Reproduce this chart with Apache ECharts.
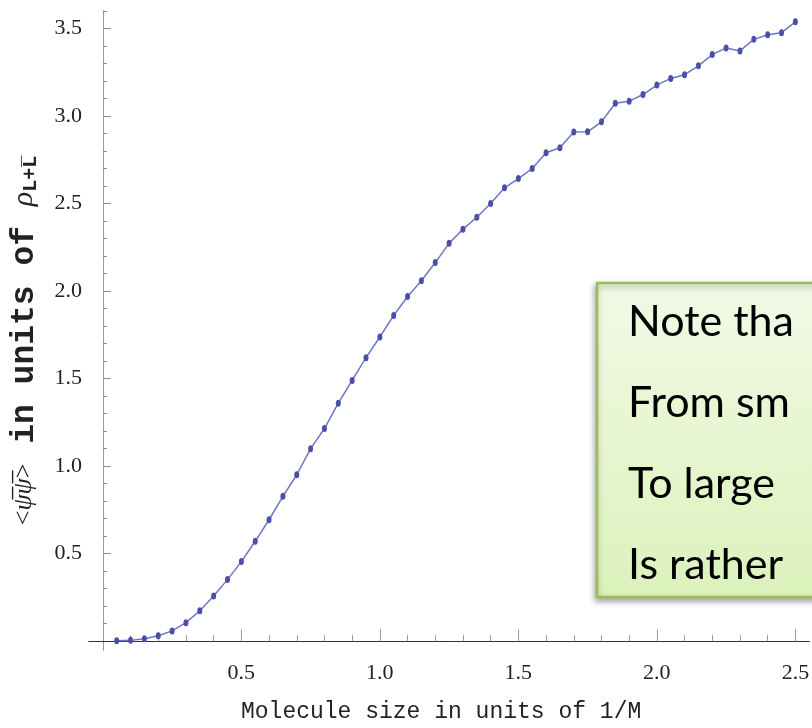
<!DOCTYPE html>
<html><head><meta charset="utf-8">
<script src="https://cdn.jsdelivr.net/npm/echarts@6/dist/echarts.min.js"></script>
<style>html,body{margin:0;padding:0;background:#fff}#c{width:812px;height:728px}</style>
</head><body><div id="c"></div>
<script>
// ---- data ----
const xValues = [0.05,0.10,0.15,0.20,0.25,0.30,0.35,0.40,0.45,0.50,
                 0.55,0.60,0.65,0.70,0.75,0.80,0.85,0.90,0.95,1.00,
                 1.05,1.10,1.15,1.20,1.25,1.30,1.35,1.40,1.45,1.50,
                 1.55,1.60,1.65,1.70,1.75,1.80,1.85,1.90,1.95,2.00,
                 2.05,2.10,2.15,2.20,2.25,2.30,2.35,2.40,2.45,2.50];
const yValues = [0.003,0.005,0.014,0.031,0.059,0.106,0.174,0.258,0.352,0.455,
                 0.571,0.694,0.828,0.951,1.100,1.215,1.360,1.490,1.620,1.738,
                 1.861,1.969,2.059,2.163,2.273,2.354,2.422,2.500,2.590,2.643,
                 2.700,2.790,2.819,2.909,2.910,2.967,3.073,3.085,3.123,3.177,
                 3.215,3.236,3.287,3.351,3.389,3.372,3.438,3.464,3.476,3.538];
const xMajorTicks = [0.5,1.0,1.5,2.0,2.5];
const xMinorTicks = [0.1,0.2,0.3,0.4,0.6,0.7,0.8,0.9,1.1,1.2,1.3,1.4,1.6,1.7,1.8,1.9,2.1,2.2,2.3,2.4,2.5];
const yMajorTicks = [0.5,1.0,1.5,2.0,2.5,3.0,3.5];
const yMinorTicks = [0.1,0.2,0.3,0.4,0.6,0.7,0.8,0.9,1.1,1.2,1.3,1.4,1.6,1.7,1.8,1.9,2.1,2.2,2.3,2.4,2.6,2.7,2.8,2.9,3.1,3.2,3.3,3.4,3.6];
const xTitle = 'Molecule size in units of 1/M';
const noteLines = ['Note tha','From sm','To large','Is rather'];

// ---- chart ----
const chart = echarts.init(document.getElementById('c'), null, {renderer:'canvas'});
const tickFont = {fontFamily:'Liberation Serif', fontSize:22, color:'#222'};
const X0 = -0.05, X1 = 2.55, Y0 = -0.05, Y1 = 3.6;

function xAx(ticks, len, major){
  return {
    type:'value', min:X0, max:X1, position:'bottom',
    axisLine:{show:true, onZero:true, onZeroAxisIndex:0, lineStyle:{color:'#333', width:1}},
    axisTick:{show:true, inside:true, length:len, customValues:ticks, lineStyle:{color:'#999', width:1}},
    axisLabel: major ? Object.assign({show:true, customValues:xMajorTicks, margin:12, formatter:v=>v.toFixed(1)}, tickFont) : {show:false},
    splitLine:{show:false}, minorTick:{show:false},
    name: major ? xTitle : '', nameLocation:'middle', nameGap:50,
    nameTextStyle:{fontFamily:'Liberation Mono', fontSize:23, color:'#222', padding:[0,16,0,0]}
  };
}
function yAx(ticks, len, major){
  return {
    type:'value', min:Y0, max:Y1, position:'left',
    axisLine:{show:true, onZero:true, onZeroAxisIndex:0, lineStyle:{color:'#999', width:1}},
    axisTick:{show:true, inside:true, length:len, customValues:ticks, lineStyle:{color:'#888', width:1}},
    axisLabel: major ? Object.assign({show:true, customValues:yMajorTicks, margin:7, formatter:v=>v.toFixed(1)}, tickFont) : {show:false},
    splitLine:{show:false}, minorTick:{show:false},
    name: major ? '{a|<}{p|ψ̅ψ̅}{a|>}{m| in units of }{r|ρ}{s|L+L̅}' : '',
    nameLocation:'middle', nameGap:48, nameRotate:90,
    nameTextStyle:{
      padding:[0,20,0,0], color:'#222',
      rich:{
        a:{fontFamily:'Liberation Serif', fontSize:26, color:'#222'},
        p:{fontFamily:'Liberation Serif', fontStyle:'italic', fontSize:26, color:'#222'},
        m:{fontFamily:'Liberation Mono', fontWeight:'bold', fontSize:33, color:'#222'},
        r:{fontFamily:'Liberation Serif', fontStyle:'italic', fontSize:30, color:'#222'},
        s:{fontFamily:'Liberation Mono', fontWeight:'bold', fontSize:20, color:'#222', verticalAlign:'bottom'}
      }
    }
  };
}

chart.setOption({
  animation:false,
  backgroundColor:'#fff',
  grid:{left:82.5, top:11, width:730.6, height:644.2, containLabel:false},
  xAxis:[xAx(xMajorTicks,12,true), xAx(xMinorTicks,6,false)],
  yAxis:[yAx(yMajorTicks,8,true), yAx(yMinorTicks,4,false)],
  series:[{
    type:'line', xAxisIndex:0, yAxisIndex:0,
    data: xValues.map((x,i)=>[x, yValues[i]]),
    symbol:'circle', symbolSize:[5,7], showSymbol:true, showAllSymbol:true,
    lineStyle:{color:'#7075c2', width:1.5},
    itemStyle:{color:'#4a50aa'},
    clip:false, z:5
  }],
  graphic:[{
    type:'group', z:100,
    children:[
      {type:'rect', shape:{x:597, y:283, width:260, height:314},
       style:{fill:{type:'linear', x:0, y:0, x2:0, y2:1,
                    colorStops:[{offset:0, color:'#f2f9e6'},{offset:1, color:'#dbf2bb'}]},
              stroke:'#9bbb59', lineWidth:2.5,
              shadowBlur:6, shadowOffsetX:-1, shadowOffsetY:3, shadowColor:'rgba(0,0,0,0.35)'}},
      ...noteLines.map((t,i)=>({type:'text', x:628, y:322 + i*81,
        style:{text:t, fontFamily:'Lato', fontSize:43, fill:'#000', verticalAlign:'middle'}}))
    ]
  }]
});
</script>
</body></html>
